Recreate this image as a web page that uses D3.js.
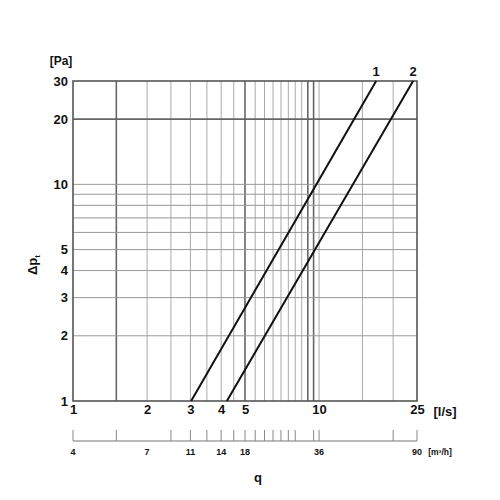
<!DOCTYPE html>
<html><head><meta charset="utf-8">
<script src="https://cdn.jsdelivr.net/npm/d3@7"></script>
<style>body{margin:0;background:#fff}svg{display:block}text{font-family:"Liberation Sans",Arial,sans-serif;font-weight:bold;fill:#111}</style>
</head><body><svg id="c" width="500" height="500"></svg>
<script>
// Data
const xTickLabels = [1, 2, 3, 4, 5, 10, 25];           // l/s
const yTickLabels = [1, 2, 3, 4, 5, 10, 20, 30];       // Pa
const xGrid = [1.5, 2, 2.5, 3, 3.5, 4, 4.5, 5, 5.5, 6, 6.5, 7, 7.5, 8, 8.5, 9, 9.5, 10, 15, 20];
const xGridDark = [1.5, 5, 9, 9.5];
const yGrid = [2, 3, 4, 5, 6, 7, 8, 9, 10, 20];
const yGridDark = [20];
const m3hTickPos = [1, 1.5, 2.5, 3, 3.5, 4, 4.5, 5, 5.5, 6, 6.5, 7, 7.5, 8, 9.5, 10, 20, 25]; // in l/s
const m3hLabelPos = [1, 2, 3, 4, 5, 10, 25];
const m3hLabels = ["4", "7", "11", "14", "18", "36", "90"];
const curveNames = ["1", "2"];
const curveQ = [[3.02, 17.06], [4.22, 24.1]];   // l/s
const curveDp = [[1, 30], [1, 30]];              // Pa

const svg = d3.select("#c");
const x = d3.scaleLog().domain([1, 25]).range([73, 417]);
const y = d3.scaleLog().domain([1, 30]).range([401, 81]);

// grid
svg.append("g").selectAll("line").data(xGrid).join("line")
  .attr("x1", d => x(d)).attr("x2", d => x(d)).attr("y1", y(30)).attr("y2", y(1))
  .attr("stroke", d => xGridDark.includes(d) ? "#666" : "#aaa")
  .attr("stroke-width", d => xGridDark.includes(d) ? 1.6 : 1);
svg.append("g").selectAll("line").data(yGrid).join("line")
  .attr("y1", d => y(d)).attr("y2", d => y(d)).attr("x1", x(1)).attr("x2", x(25))
  .attr("stroke", d => yGridDark.includes(d) ? "#666" : "#999")
  .attr("stroke-width", d => yGridDark.includes(d) ? 1.6 : 1);
// frame
svg.append("rect").attr("x", x(1)).attr("y", y(30)).attr("width", x(25) - x(1)).attr("height", y(1) - y(30))
  .attr("fill", "none").attr("stroke", "#555").attr("stroke-width", 1.6);

// curves
const line = d3.line().x(d => x(d[0])).y(d => y(d[1]));
curveQ.forEach((qs, i) => {
  const pts = qs.map((q, j) => [q, curveDp[i][j]]);
  svg.append("path").attr("d", line(pts)).attr("fill", "none").attr("stroke", "#111").attr("stroke-width", 2);
  svg.append("text").attr("x", x(qs[qs.length - 1])).attr("y", y(30) - 5).attr("text-anchor", "middle")
    .attr("font-size", 13).text(curveNames[i]);
});

// y axis labels
const yAxis = d3.axisLeft(y).tickValues(yTickLabels).tickFormat(d3.format("d")).tickSize(0).tickPadding(5);
const gy = svg.append("g").attr("transform", `translate(${x(1)},0)`).call(yAxis);
gy.select(".domain").remove();
gy.selectAll("text").attr("font-size", 13).style("font-family", '"Liberation Sans",Arial,sans-serif').style("font-weight", "bold").attr("fill", "#111");
svg.append("text").attr("x", 61).attr("y", 65).attr("text-anchor", "middle").attr("font-size", 12).text("[Pa]");
const yl = svg.append("text").attr("transform", `translate(37,265) rotate(-90)`).attr("text-anchor", "middle").attr("font-size", 13);
yl.append("tspan").text("Δp");
yl.append("tspan").attr("font-size", 8).attr("dy", 3).text("t");

// x axis labels (l/s)
const xAxis = d3.axisBottom(x).tickValues(xTickLabels).tickFormat(d3.format("d")).tickSize(0).tickPadding(4);
const gx = svg.append("g").attr("transform", `translate(0,${y(1)})`).call(xAxis);
gx.select(".domain").remove();
gx.selectAll("text").attr("font-size", 13).style("font-family", '"Liberation Sans",Arial,sans-serif').style("font-weight", "bold").attr("fill", "#111");
svg.append("text").attr("x", 445).attr("y", 416).attr("text-anchor", "middle").attr("font-size", 13).text("[l/s]");

// m3/h axis
const base = 441;
svg.append("line").attr("x1", x(1)).attr("x2", x(25)).attr("y1", base).attr("y2", base).attr("stroke", "#777").attr("stroke-width", 1.2);
svg.append("g").selectAll("line").data(m3hTickPos).join("line")
  .attr("x1", d => x(d)).attr("x2", d => x(d)).attr("y1", base - 11).attr("y2", base)
  .attr("stroke", "#888").attr("stroke-width", 1);
svg.append("g").selectAll("text").data(m3hLabelPos).join("text")
  .attr("x", d => x(d)).attr("y", 455).attr("text-anchor", "middle").attr("font-size", 9)
  .text((d, i) => m3hLabels[i]);
svg.append("text").attr("x", 440).attr("y", 455).attr("text-anchor", "middle").attr("font-size", 8.5).text("[m³/h]");
svg.append("text").attr("x", 258).attr("y", 482).attr("text-anchor", "middle").attr("font-size", 13).text("q");
</script></body></html>
